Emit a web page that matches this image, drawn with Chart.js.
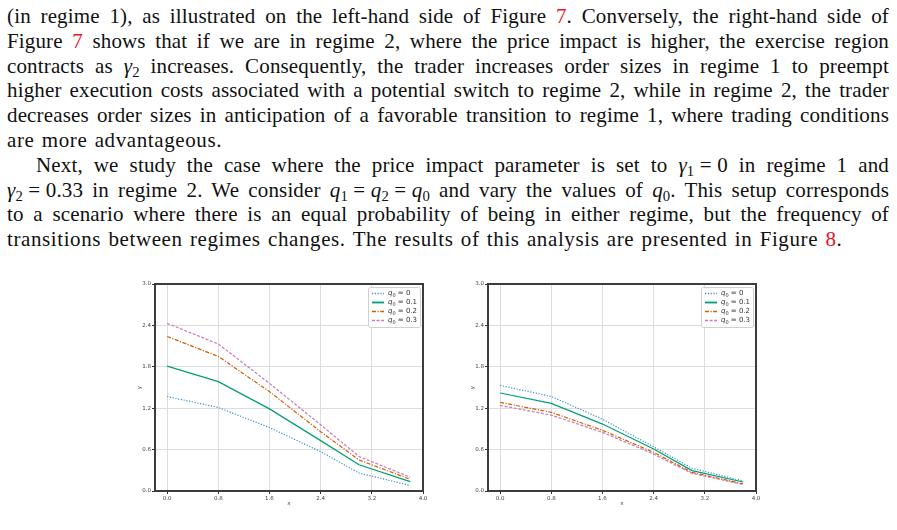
<!DOCTYPE html>
<html>
<head>
<meta charset="utf-8">
<script src="https://cdn.jsdelivr.net/npm/chart.js@4.4.1/dist/chart.umd.min.js"></script>
<style>
  html, body { margin:0; padding:0; background:#fff; width:897px; height:530px; overflow:hidden; }
  #text { position:absolute; left:7px; top:4px; width:882px; font-family:"Liberation Serif", serif; font-size:21px; line-height:24.8px; color:#111; letter-spacing:0.15px; }
  .l { text-align:justify; text-align-last:justify; white-space:nowrap; }
  .l.last { text-align-last:left; letter-spacing:0.6px; word-spacing:1.5px; }
  .ind { padding-left:29px; }
  .r { color:#e8141e; }
  .m { display:inline-block; white-space:nowrap; }
  sub { font-size:0.7em; vertical-align:-0.25em; line-height:0; }
  canvas { position:absolute; }
</style>
</head>
<body>
<div id="text">
  <div class="l">(in regime 1), as illustrated on the left-hand side of Figure <span class="r">7</span>. Conversely, the right-hand side of</div>
  <div class="l">Figure <span class="r">7</span> shows that if we are in regime 2, where the price impact is higher, the exercise region</div>
  <div class="l">contracts as <span class="m"><i>γ</i><sub>2</sub></span> increases. Consequently, the trader increases order sizes in regime 1 to preempt</div>
  <div class="l">higher execution costs associated with a potential switch to regime 2, while in regime 2, the trader</div>
  <div class="l">decreases order sizes in anticipation of a favorable transition to regime 1, where trading conditions</div>
  <div class="l last">are more advantageous.</div>
  <div class="l ind">Next, we study the case where the price impact parameter is set to <span class="m"><i>γ</i><sub>1</sub> = 0</span> in regime 1 and</div>
  <div class="l"><span class="m"><i>γ</i><sub>2</sub> = 0.33</span> in regime 2. We consider <span class="m"><i>q</i><sub>1</sub> = <i>q</i><sub>2</sub> = <i>q</i><sub>0</sub></span> and vary the values of <span class="m"><i>q</i><sub>0</sub></span>. This setup corresponds</div>
  <div class="l">to a scenario where there is an equal probability of being in either regime, but the frequency of</div>
  <div class="l last">transitions between regimes changes. The results of this analysis are presented in Figure <span class="r">8</span>.</div>
</div>
<canvas id="c1" width="300" height="240" style="left:130px;top:276px;"></canvas>
<canvas id="c2" width="300" height="240" style="left:463px;top:276px;"></canvas>
<script>
// ---- data ----
const xValues = [0, 0.8, 1.6, 2.4, 3.0, 3.8];
const q0Labels = ['0', '0.1', '0.2', '0.3'];
const xTicks = [0.0, 0.8, 1.6, 2.4, 3.2, 4.0];
const yTicks = [0.0, 0.6, 1.2, 1.8, 2.4, 3.0];

// left panel
const leftQ00 = [1.37, 1.21, 0.92, 0.57, 0.26, 0.08];
const leftQ01 = [1.81, 1.585, 1.19, 0.73, 0.38, 0.135];
const leftQ02 = [2.24, 1.95, 1.44, 0.86, 0.45, 0.17];
const leftQ03 = [2.43, 2.13, 1.56, 0.96, 0.50, 0.20];
// right panel
const rightQ00 = [1.53, 1.37, 1.04, 0.64, 0.33, 0.145];
const rightQ01 = [1.42, 1.27, 0.97, 0.61, 0.295, 0.13];
const rightQ02 = [1.285, 1.14, 0.88, 0.56, 0.27, 0.105];
const rightQ03 = [1.24, 1.10, 0.85, 0.535, 0.255, 0.095];

// ---- styles ----
const seriesColors = ['#3a8fd2', '#029e73', '#d55e00', '#cc78bc'];
const seriesDash = [[1.2, 1.6], [], [4, 1.5, 1.2, 1.5], [3, 1.6]];

function makeDatasets(series) {
  return series.map((vals, i) => ({
    label: q0Labels[i],
    data: vals.map((v, j) => ({ x: xValues[j], y: v })),
    borderColor: seriesColors[i],
    backgroundColor: seriesColors[i],
    borderDash: seriesDash[i],
    borderWidth: 1.2,
    pointRadius: 0,
    tension: 0,
    fill: false
  }));
}

const framePlugin = {
  id: 'frame',
  afterDatasetsDraw(chart) {
    const { ctx, chartArea: a } = chart;
    ctx.save();
    ctx.strokeStyle = '#3c3c3c';
    ctx.lineWidth = 2;
    ctx.setLineDash([]);
    ctx.strokeRect(a.left, a.top, a.right - a.left, a.bottom - a.top);
    ctx.restore();
  }
};

const legendPlugin = {
  id: 'mplLegend',
  afterDraw(chart, args, opts) {
    const { ctx, chartArea: a } = chart;
    const w = opts.width, rowH = 9;
    const n = chart.data.datasets.length;
    const x0 = a.right - 3 - w, y0 = a.top + 3;
    const h = n * rowH + 4;
    ctx.save();
    ctx.fillStyle = 'rgba(255,255,255,0.85)';
    ctx.strokeStyle = '#d0d0d0';
    ctx.lineWidth = 1;
    ctx.beginPath();
    ctx.roundRect(x0 + 0.5, y0 + 0.5, w, h, 2);
    ctx.fill();
    ctx.stroke();
    chart.data.datasets.forEach((ds, i) => {
      const y = y0 + 6.5 + i * rowH;
      ctx.strokeStyle = ds.borderColor;
      ctx.lineWidth = i === 1 ? 1.8 : 1.3;
      ctx.setLineDash(ds.borderDash || []);
      ctx.beginPath();
      ctx.moveTo(x0 + 4, y);
      ctx.lineTo(x0 + opts.lineLen, y);
      ctx.stroke();
      ctx.setLineDash([]);
      const tx = x0 + opts.textX;
      ctx.fillStyle = '#333';
      ctx.textBaseline = 'middle';
      ctx.font = 'italic 7px "DejaVu Sans"';
      ctx.fillText('q', tx, y);
      const qw = ctx.measureText('q').width;
      ctx.font = '5px "DejaVu Sans"';
      ctx.fillText('0', tx + qw, y + 1.9);
      const zw = ctx.measureText('0').width;
      ctx.font = '7px "DejaVu Sans"';
      ctx.fillText(' = ' + ds.label, tx + qw + zw, y);
    });
    ctx.restore();
  }
};

function makeChart(id, series, legendOpts) {
  const tickFont = { family: 'DejaVu Sans', size: 5.5 };
  return new Chart(document.getElementById(id), {
    type: 'line',
    data: { datasets: makeDatasets(series) },
    options: {
      responsive: false,
      devicePixelRatio: 1,
      animation: false,
      layout: { padding: { top: 8, right: 7, left: 0, bottom: 0 } },
      plugins: { legend: { display: false }, tooltip: { enabled: false }, mplLegend: legendOpts },
      scales: {
        x: {
          type: 'linear', min: -0.19, max: 4.0,
          afterBuildTicks: s => { s.ticks = xTicks.map(v => ({ value: v })); },
          afterFit: s => { s.height = 25; },
          ticks: { font: tickFont, color: '#444', padding: 1, maxRotation: 0, autoSkip: false,
                   callback: v => Number(v).toFixed(1) },
          grid: { color: '#dddddd', lineWidth: 1, tickLength: 3, tickColor: '#333' },
          border: { display: false },
          title: { display: true, text: 'x', font: { family: 'DejaVu Sans', size: 5.5 }, color: '#444',
                   padding: { top: 0, bottom: 9 } }
        },
        y: {
          type: 'linear', min: 0, max: 3.0,
          afterBuildTicks: s => { s.ticks = yTicks.map(v => ({ value: v })); },
          afterFit: s => { s.width = 25; },
          ticks: { font: tickFont, color: '#444', padding: 1, autoSkip: false,
                   callback: v => Number(v).toFixed(1) },
          grid: { color: '#dddddd', lineWidth: 1, tickLength: 3, tickColor: '#333' },
          border: { display: false },
          title: { display: true, text: 'y', font: { family: 'DejaVu Sans', size: 5.5 }, color: '#444',
                   padding: { top: 6, bottom: 0 } }
        }
      }
    },
    plugins: [framePlugin, legendPlugin]
  });
}

makeChart('c1', [leftQ00, leftQ01, leftQ02, leftQ03], { width: 52, lineLen: 16, textX: 20 });
makeChart('c2', [rightQ00, rightQ01, rightQ02, rightQ03], { width: 52, lineLen: 16, textX: 20 });
</script>
</body>
</html>
